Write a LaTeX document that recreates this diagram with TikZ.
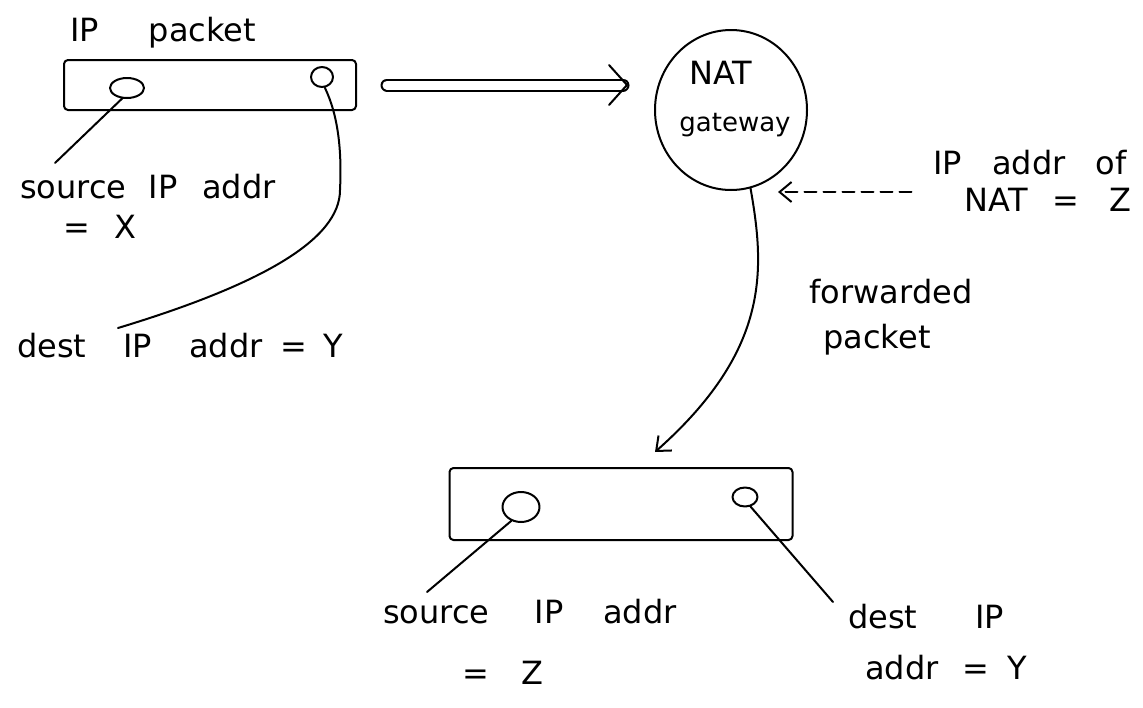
\documentclass[tikz,border=0pt]{standalone}
\usepackage{fontspec}
\setmainfont{DejaVu Sans}
\usetikzlibrary{shapes.geometric,arrows.meta,calc}
\begin{document}
\begin{tikzpicture}[x=1pt,y=-1pt,
  ink/.style={line width=2pt, black, line cap=round, line join=round},
  hand/.style={font=\fontsize{32}{36}\selectfont, inner sep=0pt, align=center},
  smallhand/.style={font=\fontsize{26}{30}\selectfont, inner sep=0pt},
  blob/.style={ellipse, draw, ink, inner sep=0pt},
  packetbox/.style={draw, ink, rounded corners=4pt, inner sep=0pt},
  barb/.style={-{Straight Barb[length=12pt,width=20pt]}}
]
\fill[white] (0,0) rectangle (1143,707);
\path[use as bounding box] (0,0) rectangle (1143,707);

% ---------- original packet ----------
\node[packetbox, minimum width=292pt, minimum height=50pt] (pkt) at (210,85) {};
\node[blob, minimum width=34pt, minimum height=20pt] (s1) at (127,88) {};
\node[blob, minimum width=22pt, minimum height=20pt] (d1) at (322,77) {};
\node[hand] (pktlbl) at (163,33) {IP\hspace{50pt}packet};
\node[hand] (src1) at (148,187) {source\hspace{22pt}IP\hspace{25pt}addr};
\node[hand] (eqx) at (100,227) {=\hspace{24pt}X};
\node[hand] (dst1) at (180,346) {dest\hspace{37pt}IP\hspace{37pt}addr\hspace{18pt}=\hspace{16pt}Y};
\coordinate (s1end) at (55,163);
\coordinate (d1end) at (118,328);
\draw[ink] (s1.-115) -- (s1end);
\draw[ink] (d1.-75) .. controls (338,115) and (342,150) .. (340,190)
  .. controls (340,240) and (260,285) .. (d1end);

% ---------- NAT gateway ----------
\node[blob, minimum width=152pt, minimum height=160pt] (nat) at (731,110) {};
\node[hand] (natt) at (721,73) {NAT};
\node[smallhand] (gw) at (735,125) {gateway};

% double arrow packet -> NAT
\coordinate (dtip) at ($(pkt.east -| nat.west)+(-27,0)$);
\draw[ink, double, double distance=9pt, shorten <=30pt] (pkt.east) -- ($(dtip)+(-4,0)$);
\draw[ink] ($(dtip)+(-18,-20)$) -- (dtip) -- ($(dtip)+(-18,20)$);

% label IP addr of NAT = Z
\node[hand] (zl1) at (1030,163) {IP\hspace{30pt}addr\hspace{30pt}of};
\node[hand] (zl2) at (1048,200) {NAT\hspace{25pt}=\hspace{30pt}Z};
\coordinate (za) at ($(zl2.west)+(-53,-8)$);
\coordinate (zb) at (778,192);
\draw[ink, barb, dash pattern=on 12pt off 7pt] (za) -- (zb);

% forwarded arrow label
\node[hand] (fwd) at (891,292) {forwarded};
\node[hand] (fpk) at (877,340) {packet};

% ---------- forwarded packet ----------
\node[packetbox, minimum width=343pt, minimum height=72pt] (pkt2) at (621,504) {};
\node[blob, minimum width=37pt, minimum height=30pt] (s2) at (521,507) {};
\node[blob, minimum width=25pt, minimum height=19pt] (d2) at (745,497) {};
\coordinate (fend) at (655,452);
\draw[ink, barb] (nat.-76) .. controls (765,270) and (770,350) .. (fend);

\node[hand] (src2) at (530,612) {source\hspace{45pt}IP\hspace{40pt}addr};
\node[hand] (eqz) at (503,673) {=\hspace{32pt}Z};
\node[hand] (dst2) at (926,617) {dest\hspace{58pt}IP};
\node[hand] (adr2) at (946,668) {addr\hspace{24pt}=\hspace{18pt}Y};
\coordinate (s2end) at (427,592);
\coordinate (d2end) at (833,602);
\draw[ink] (s2.-125) -- (s2end);
\draw[ink] (d2.-60) -- (d2end);
\end{tikzpicture}
\end{document}
